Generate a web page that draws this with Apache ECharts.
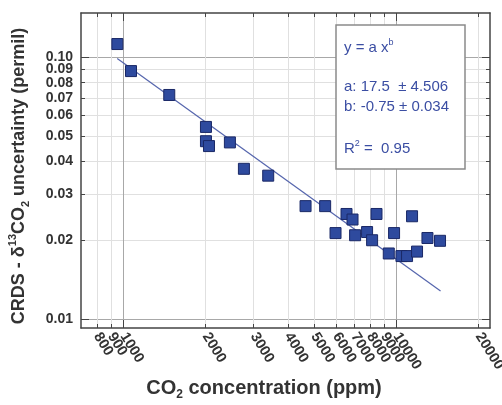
<!DOCTYPE html>
<html><head><meta charset="utf-8">
<script src="https://cdn.jsdelivr.net/npm/echarts@6/dist/echarts.min.js"></script>
<style>html,body{margin:0;padding:0;background:#fff}#c{width:502px;height:405px}</style>
</head><body><div id="c"></div>
<script>
// ---- data ----
const co2 = [951,1067,1473,2007,2007,2059,2456,2764,3392,4647,5482,6563,6904,8450,11405,5983,7056,7806,8143,9800,12985,14436,9372,10430,10934,11893];
const uncertainty = [0.1124,0.0886,0.0718,0.0542,0.0478,0.0458,0.0473,0.0375,0.0353,0.0270,0.0270,0.0252,0.0240,0.0252,0.0247,0.0213,0.0209,0.0215,0.0200,0.0213,0.0204,0.0199,0.0178,0.0174,0.0174,0.0181];
const fitX = [950, 14500];
const fitY = [0.099, 0.0128];
const xTicks = [800,900,1000,2000,3000,4000,5000,6000,7000,8000,9000,10000,20000];
const yTicks = [0.01,0.02,0.03,0.04,0.05,0.06,0.07,0.08,0.09,0.10];
const xMajor = [1000,10000];
const yMajor = [0.01,0.1];
// tick labels (split into groups so ECharts does not drop crowded end labels)
const xLabelsMain = [1000,2000,3000,4000,5000,6000,7000,8000,9000,10000,20000];
const xLabelsExtraA = [800];
const xLabelsExtraB = [900];
const yLabelsMain = [0.01,0.02,0.03,0.04,0.05,0.06,0.07,0.09];
const yLabelsExtra = [0.08,0.10];
const fitA = ['17.5','4.506'];
const fitB = ['-0.75','0.034'];
const fitR2 = '0.95';

const FONT = 'Liberation Sans, Arial, Helvetica, sans-serif';
const AX = '#444';
const X_RANGE = [700, 22000];
const Y_RANGE = [0.00924, 0.1477];

function xLabel(vals) {
  return {show: true, customValues: vals, rotate: -58, margin: 6,
    showMinLabel: true, showMaxLabel: true, hideOverlap: false,
    color: '#333', fontSize: 14.5, fontWeight: 'bold', fontFamily: FONT,
    formatter: v => String(Math.round(v))};
}
function yLabel(vals) {
  return {show: true, customValues: vals, margin: 8,
    showMinLabel: true, showMaxLabel: true, hideOverlap: false,
    color: '#333', fontSize: 14, fontWeight: 'bold', fontFamily: FONT,
    formatter: v => Number(v).toFixed(2)};
}

function makeAxis(kind, pos, ticks, len, opts) {
  const range = kind === 'x' ? X_RANGE : Y_RANGE;
  return {
    type: 'log', logBase: 10, position: pos,
    min: range[0], max: range[1],
    axisLine: {show: !!opts.line, onZero: false, lineStyle: {color: AX, width: 1.5}},
    axisTick: {show: len > 0, inside: true, length: len, customValues: ticks, lineStyle: {color: AX, width: 1}},
    axisLabel: opts.label ? opts.label : {show: false},
    splitLine: opts.split ? {show: true, lineStyle: {color: opts.split, width: 1}} : {show: false},
    minorTick: {show: false}, minorSplitLine: {show: false}
  };
}

const chart = echarts.init(document.getElementById('c'), null, {renderer: 'canvas'});
const data = co2.map((v, i) => [v, uncertainty[i]]);
const fitData = fitX.map((v, i) => [v, fitY[i]]);

chart.setOption({
  animation: false,
  backgroundColor: '#fff',
  grid: {left: 81, right: 12, top: 13, bottom: 77, outerBoundsMode: 'none', containLabel: false},
  xAxis: [
    makeAxis('x', 'bottom', xTicks, 4, {line: true, split: '#e0e0e0', label: xLabel(xLabelsMain)}),
    makeAxis('x', 'top', xTicks, 4, {line: true}),
    makeAxis('x', 'bottom', xMajor, 8, {split: '#a8a8a8', label: xLabel(xLabelsExtraA)}),
    makeAxis('x', 'top', xMajor, 8, {}),
    makeAxis('x', 'bottom', xLabelsExtraB, 0, {label: xLabel(xLabelsExtraB)})
  ],
  yAxis: [
    makeAxis('y', 'left', yTicks, 4, {line: true, split: '#e0e0e0', label: yLabel(yLabelsMain)}),
    makeAxis('y', 'right', yTicks, 4, {line: true}),
    makeAxis('y', 'left', yMajor, 8, {split: '#a8a8a8', label: yLabel(yLabelsExtra)}),
    makeAxis('y', 'right', yMajor, 8, {})
  ],
  series: [
    {type: 'line', xAxisIndex: 0, yAxisIndex: 0, data: fitData, symbol: 'none',
     lineStyle: {color: '#5565ad', width: 1.2}, z: 3},
    {type: 'scatter', xAxisIndex: 0, yAxisIndex: 0, data: data, symbol: 'rect', symbolSize: 11,
     itemStyle: {color: '#2e4a9e', borderColor: '#1a2866', borderWidth: 1, opacity: 1}, z: 4}
  ],
  graphic: [
    {type: 'rect', z: 100, shape: {x: 336, y: 25, width: 129, height: 144},
     style: {fill: '#fff', stroke: '#8a8a8a', lineWidth: 1.5}},
    {type: 'text', z: 101, x: 344, y: 48, style: {
      text: '{m|y = a x}{s|b}', fill: '#3b4ea3', textVerticalAlign: 'middle',
      rich: {m: {fontSize: 15, fontFamily: FONT, fill: '#3b4ea3', lineHeight: 20},
             s: {fontSize: 9, fontFamily: FONT, fill: '#3b4ea3', verticalAlign: 'top', lineHeight: 12}}}},
    {type: 'text', z: 101, x: 344, y: 87, style: {
      text: 'a: ' + fitA[0] + '  \u00b1 ' + fitA[1], font: '15px ' + FONT, fill: '#3b4ea3', textVerticalAlign: 'middle'}},
    {type: 'text', z: 101, x: 344, y: 107, style: {
      text: 'b: ' + fitB[0] + ' \u00b1 ' + fitB[1], font: '15px ' + FONT, fill: '#3b4ea3', textVerticalAlign: 'middle'}},
    {type: 'text', z: 101, x: 344, y: 149, style: {
      text: '{m|R}{s|2}{m| =  ' + fitR2 + '}', fill: '#3b4ea3', textVerticalAlign: 'middle',
      rich: {m: {fontSize: 15, fontFamily: FONT, fill: '#3b4ea3', lineHeight: 20},
             s: {fontSize: 9, fontFamily: FONT, fill: '#3b4ea3', verticalAlign: 'top', lineHeight: 12}}}},
    {type: 'text', z: 50, x: 264, y: 388, style: {
      text: '{t|CO}{b|2}{t| concentration (ppm)}', textAlign: 'center', textVerticalAlign: 'middle',
      rich: {t: {fontSize: 20, fontWeight: 'bold', fontFamily: FONT, fill: '#333', lineHeight: 26},
             b: {fontSize: 12, fontWeight: 'bold', fontFamily: FONT, fill: '#333', verticalAlign: 'bottom', lineHeight: 13}}}},
    {type: 'text', z: 50, x: 19, y: 176, rotation: Math.PI / 2, style: {
      text: '{t|CRDS - \u03b4}{p|13}{t|CO}{b|2}{t| uncertainty (permil)}', textAlign: 'center', textVerticalAlign: 'middle',
      rich: {t: {fontSize: 18, fontWeight: 'bold', fontFamily: FONT, fill: '#333', lineHeight: 24},
             p: {fontSize: 11, fontWeight: 'bold', fontFamily: FONT, fill: '#333', verticalAlign: 'top', lineHeight: 12},
             b: {fontSize: 11, fontWeight: 'bold', fontFamily: FONT, fill: '#333', verticalAlign: 'bottom', lineHeight: 12}}}}
  ]
});
</script></body></html>
